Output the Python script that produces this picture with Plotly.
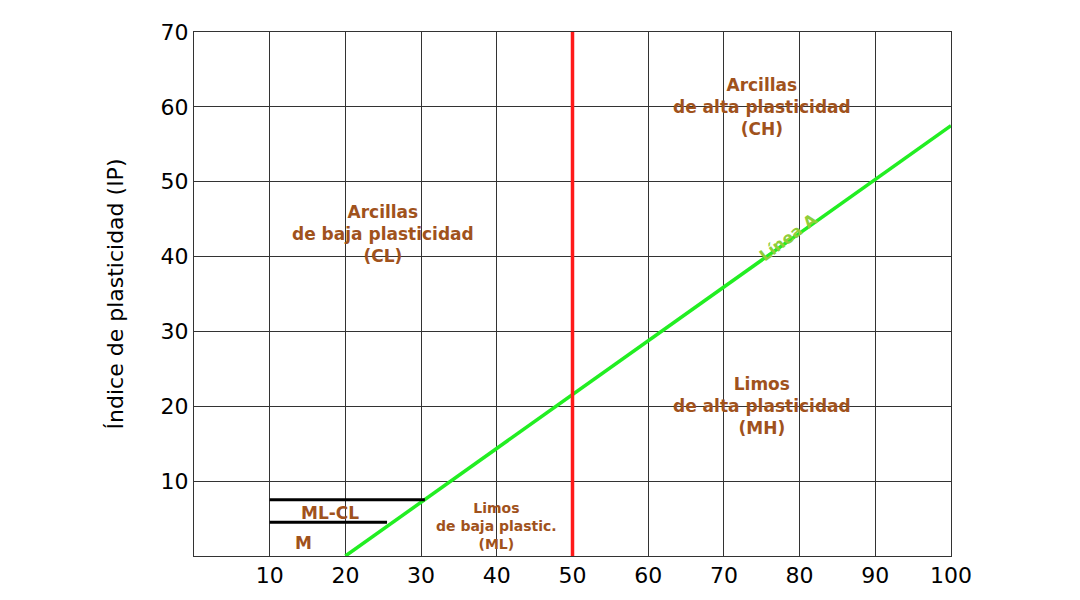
import plotly.graph_objects as go

# Línea A
linea_a_x = [20, 100]
linea_a_y = [0, 57.5]
# línea LL = 50
ll50_x = [50, 50]
ll50_y = [0, 70]
# zonas ML-CL y M
mlcl_x = [10, 30.5]
mlcl_y = [7.5, 7.5]
m_x = [10, 25.5]
m_y = [4.5, 4.5]

etiquetas = [
    (75, 60, "Arcillas<br>de alta plasticidad<br>(CH)", 17),
    (25, 43, "Arcillas<br>de baja plasticidad<br>(CL)", 17),
    (75, 20, "Limos<br>de alta plasticidad<br>(MH)", 17),
    (40, 4, "Limos<br>de baja plastic.<br>(ML)", 14),
]
marron = "#a0521c"

fig = go.Figure()
fig.add_trace(go.Scatter(x=linea_a_x, y=linea_a_y, mode="lines", line=dict(color="#22ee22", width=3.5)))
fig.add_trace(go.Scatter(x=ll50_x, y=ll50_y, mode="lines", line=dict(color="#ff1a1a", width=3.5)))
fig.add_trace(go.Scatter(x=mlcl_x, y=mlcl_y, mode="lines", line=dict(color="black", width=3)))
fig.add_trace(go.Scatter(x=m_x, y=m_y, mode="lines", line=dict(color="black", width=3)))

for x, y, t, s in etiquetas:
    fig.add_annotation(x=x, y=y, text="<b>%s</b>" % t, showarrow=False,
                       font=dict(color=marron, size=s))
fig.add_annotation(x=18, y=5.8, text="<b>ML-CL</b>", showarrow=False, font=dict(color=marron, size=17))
fig.add_annotation(x=14.5, y=1.8, text="<b>M</b>", showarrow=False, font=dict(color=marron, size=17))
fig.add_annotation(x=78.5, y=42.5, text="<b>Línea A</b>", showarrow=False, textangle=-37,
                   font=dict(color="#8fce3a", size=16))

fig.update_layout(
    width=1080, height=600, showlegend=False,
    plot_bgcolor="white", paper_bgcolor="white",
    margin=dict(l=186, r=137, t=14, b=52),
    font=dict(family="DejaVu Sans", color="black", size=22),
    xaxis=dict(range=[0, 100], tickvals=list(range(10, 101, 10)), showgrid=True,
               gridcolor="#333", gridwidth=1, showline=True, linecolor="#333", mirror=True,
               zeroline=False, tickfont=dict(size=22)),
    yaxis=dict(range=[0, 70], tickvals=list(range(10, 71, 10)), showgrid=True,
               gridcolor="#333", gridwidth=1, showline=True, linecolor="#333", mirror=True,
               zeroline=False, tickfont=dict(size=22),
               title=dict(text="Índice de plasticidad (IP)", font=dict(size=22), standoff=30)),
)
fig.write_html("out.html")
